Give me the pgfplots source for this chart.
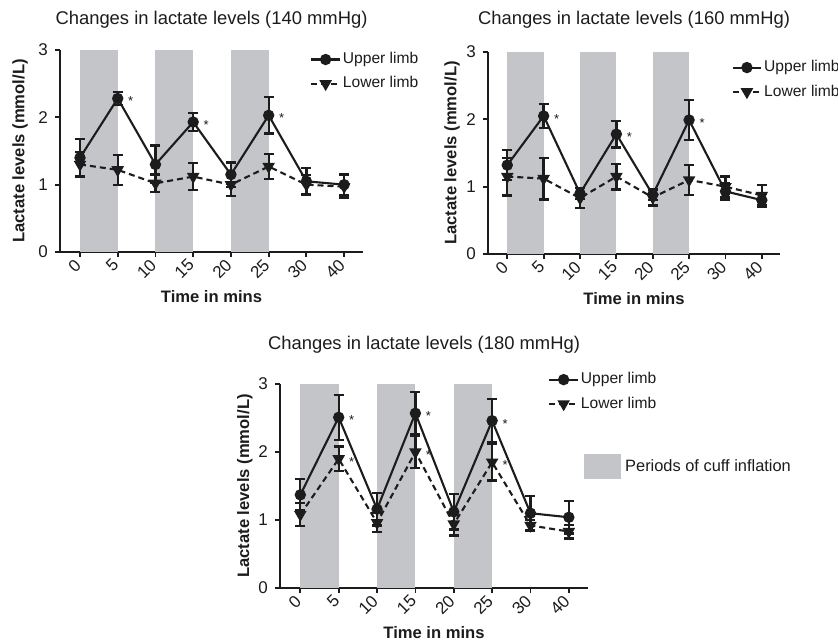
\documentclass[border=0pt]{standalone}
\usepackage{fontspec}
\setmainfont{Liberation Sans}
\usepackage{pgfplots}
\usepackage{pgfplotstable}
\pgfplotsset{compat=1.18}

\definecolor{band}{RGB}{196,197,201}
\definecolor{ink}{RGB}{28,28,28}

% x = position of the time point (0,5,10,15,20,25,30,40 -> 0..7)
\pgfplotstableread{
x up upe lo loe
0 1.40 0.28 1.30 0.19
1 2.28 0.10 1.22 0.22
2 1.30 0.28 1.02 0.13
3 1.93 0.13 1.12 0.20
4 1.15 0.18 1.00 0.17
5 2.03 0.27 1.27 0.19
6 1.05 0.20 1.00 0.14
7 1.00 0.16 0.97 0.17
}\tabA

\pgfplotstableread{
x up upe lo loe
0 1.32 0.22 1.15 0.28
1 2.05 0.18 1.12 0.31
2 0.90 0.08 0.83 0.15
3 1.78 0.20 1.15 0.19
4 0.88 0.08 0.84 0.12
5 1.99 0.30 1.10 0.22
6 0.93 0.12 1.00 0.15
7 0.80 0.10 0.87 0.15
}\tabB

\pgfplotstableread{
x up upe lo loe
0 1.37 0.23 1.08 0.17
1 2.51 0.33 1.90 0.18
2 1.16 0.24 0.96 0.14
3 2.57 0.31 2.00 0.24
4 1.12 0.26 0.94 0.17
5 2.46 0.32 1.85 0.27
6 1.10 0.25 0.92 0.08
7 1.04 0.24 0.83 0.10
}\tabC

\pgfplotsset{
  lact/.style={
    scale only axis, anchor=south west,
    xmin=-0.53, xmax=7.5, ymin=0, ymax=3,
    axis x line*=bottom, axis y line*=left,
    axis line style={ink, line width=0.9pt},
    xtick={0,...,7}, xticklabels={0,5,10,15,20,25,30,40},
    ytick={0,1,2,3},
    tick align=outside, major tick length=2.6pt,
    tick style={ink, line width=0.9pt},
    /pgf/number format/assume math mode=true,
    xticklabel style={rotate=45, anchor=east, xshift=1pt, yshift=-1pt,
      font=\fontsize{8.5}{9}\selectfont, text=ink},
    yticklabel style={font=\fontsize{8.5}{9}\selectfont, text=ink},
    xlabel={Time in mins}, ylabel={Lactate levels (mmol/L)},
    label style={font=\fontsize{8.3}{9}\selectfont\bfseries, text=ink},
    xlabel style={at={(axis description cs:0.5,-0.22)}, anchor=center},
    ylabel style={anchor=center},
    title style={font=\fontsize{9.2}{10}\selectfont, text=ink, anchor=center},
    legend style={draw=none, fill=none, font=\fontsize{7.8}{9}\selectfont, text=ink,
      anchor=north west, inner sep=0pt, cells={anchor=west},
      nodes={inner xsep=1pt, inner ysep=2.5pt}},
    legend image code/.code={\draw[mark repeat=2, mark phase=2, #1]
      plot coordinates {(0cm,0cm) (0.25cm,0cm) (0.5cm,0cm)};},
    reverse legend,
  },
  upper/.style={ink, line width=1.05pt, mark=*, mark size=2.3pt, mark options={solid},
    error bars/y dir=both, error bars/y explicit,
    error bars/error bar style={line width=1.15pt, solid},
    error bars/error mark options={rotate=90, line width=1.15pt, mark size=2.5pt, solid}},
  lower/.style={ink, line width=1.05pt, dash pattern=on 3pt off 2pt,
    mark=triangle*, mark size=2.6pt, mark options={solid, rotate=180},
    error bars/y dir=both, error bars/y explicit,
    error bars/error bar style={line width=1.15pt, solid},
    error bars/error mark options={rotate=90, line width=1.15pt, mark size=2.5pt, solid}},
  star/.style={draw=none, mark=none, forget plot, nodes near coords={*},
    every node near coord/.style={anchor=center, xshift=6.5pt, yshift=-1.5pt,
      font=\fontsize{6.5}{7}\selectfont, text=ink}},
  inflate/.style={fill=band, draw=none, forget plot},
}

\begin{document}
\begin{tikzpicture}
\useasboundingbox (0,0) rectangle (419pt,321pt);

% 140 mmHg
\begin{axis}[lact, at={(30pt,195pt)}, width=151.5pt, height=101pt,
    title={Changes in lactate levels (140 mmHg)},
    title style={at={(axis description cs:0.5,1)}, yshift=9pt},
    ylabel style={at={(axis description cs:-0.132,0.5)}},
    legend style={at={(axis description cs:0.825,1.015)}}]
  \addplot[inflate] coordinates {(0,3) (1,3)} \closedcycle;
  \addplot[inflate] coordinates {(2,3) (3,3)} \closedcycle;
  \addplot[inflate] coordinates {(4,3) (5,3)} \closedcycle;
  \addplot[lower] table[x=x, y=lo, y error=loe] {\tabA};
  \addlegendentry{Lower limb}
  \addplot[upper] table[x=x, y=up, y error=upe] {\tabA};
  \addlegendentry{Upper limb}
  \addplot[star] coordinates {(1,2.28) (3,1.93) (5,2.03)};
\end{axis}

% 160 mmHg
\begin{axis}[lact, at={(244pt,194pt)}, width=146pt, height=101pt,
    title={Changes in lactate levels (160 mmHg)},
    title style={at={(axis description cs:0.5,1)}, yshift=10pt},
    ylabel style={at={(axis description cs:-0.123,0.5)}},
    legend style={at={(axis description cs:0.833,0.985)}}]
  \addplot[inflate] coordinates {(0,3) (1,3)} \closedcycle;
  \addplot[inflate] coordinates {(2,3) (3,3)} \closedcycle;
  \addplot[inflate] coordinates {(4,3) (5,3)} \closedcycle;
  \addplot[lower] table[x=x, y=lo, y error=loe] {\tabB};
  \addlegendentry{Lower limb}
  \addplot[upper] table[x=x, y=up, y error=upe] {\tabB};
  \addlegendentry{Upper limb}
  \addplot[star] coordinates {(1,2.05) (3,1.78) (5,1.99)};
\end{axis}

% 180 mmHg
\begin{axis}[lact, at={(140pt,27pt)}, width=154pt, height=102pt,
    title={Changes in lactate levels (180 mmHg)},
    title style={at={(axis description cs:0.5,1)}, yshift=13.5pt, xshift=-5pt},
    ylabel style={at={(axis description cs:-0.114,0.5)}},
    legend style={at={(axis description cs:0.87,1.083)}}]
  \addplot[inflate] coordinates {(0,3) (1,3)} \closedcycle;
  \addplot[inflate] coordinates {(2,3) (3,3)} \closedcycle;
  \addplot[inflate] coordinates {(4,3.02) (5,3.02)} \closedcycle;
  \addplot[lower] table[x=x, y=lo, y error=loe] {\tabC};
  \addlegendentry{Lower limb}
  \addplot[upper] table[x=x, y=up, y error=upe] {\tabC};
  \addlegendentry{Upper limb}
  \addplot[star] coordinates {(1,2.51) (3,2.57) (5,2.46)};
  \addplot[star] coordinates {(1,1.90) (3,2.00) (5,1.85)};
\end{axis}

% legend for the shaded periods
\begin{axis}[scale only axis, anchor=south west, at={(140pt,27pt)},
    width=154pt, height=102pt, hide axis,
    xmin=0, xmax=1, ymin=0, ymax=1,
    legend style={draw=none, fill=none, font=\fontsize{8.2}{9}\selectfont, text=ink,
      at={(axis description cs:0.987,0.657)}, anchor=north west, inner sep=0pt,
      nodes={inner xsep=2pt}},
    legend image code/.code={\fill[band] (0pt,-6pt) rectangle (18pt,6pt);}]
  \addlegendimage{fill=band}
  \addlegendentry{Periods of cuff inflation}
\end{axis}
\end{tikzpicture}
\end{document}
